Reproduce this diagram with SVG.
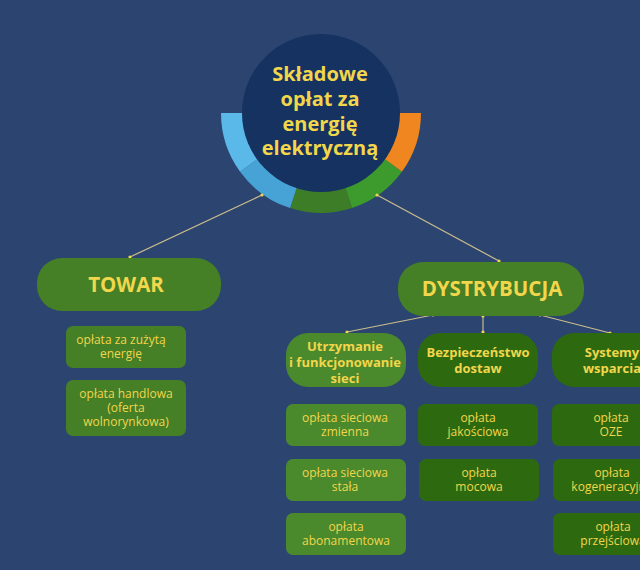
<svg xmlns="http://www.w3.org/2000/svg" width="640" height="570" viewBox="0 0 640 570">
<style>
.t{font-family:"Open Sans","Liberation Sans",sans-serif;fill:#f2d64b;text-anchor:middle}
.b{font-weight:bold}
.big{font-size:20.5px;font-weight:bold;font-family:"Open Sans","Liberation Sans",sans-serif;fill:#f2d64b;text-anchor:middle}
.hd{font-size:13px}
.lf{font-size:12px}
.mid{fill:#457f26}
.lt{fill:#4a892c}
.dk{fill:#2d6a0f}
.con{stroke:#cbbd8c;stroke-width:1.2;fill:none}
.dot{fill:#f2d64b}
</style>
<rect width="640" height="570" fill="#2c4470"/>

<g id="center">
<path d="M421,113 A100,100 0 0 1 401.9,171.8 L384.1,158.8 A78,78 0 0 0 399,113 Z" fill="#ef861f"/>
<path d="M401.9,171.8 A100,100 0 0 1 351.9,208.1 L345.1,187.2 A78,78 0 0 0 384.1,158.8 Z" fill="#3d9a2d"/>
<path d="M351.9,208.1 A100,100 0 0 1 290.1,208.1 L296.9,187.2 A78,78 0 0 0 345.1,187.2 Z" fill="#3e7d28"/>
<path d="M290.1,208.1 A100,100 0 0 1 240.1,171.8 L257.9,158.8 A78,78 0 0 0 296.9,187.2 Z" fill="#47a3d6"/>
<path d="M240.1,171.8 A100,100 0 0 1 221,113 L243,113 A78,78 0 0 0 257.9,158.8 Z" fill="#5bb9ea"/>
<circle cx="321" cy="113" r="79" fill="#153260"/>
<text class="t b" font-size="20"><tspan x="320" y="81">Składowe</tspan><tspan x="320" y="106">opłat za</tspan><tspan x="320" y="131">energię</tspan><tspan x="320" y="155">elektryczną</tspan></text>
</g>

<g id="connectors">
<line class="con" x1="262" y1="195" x2="130" y2="257"/>
<line class="con" x1="377" y1="195" x2="499" y2="261"/>
<line class="con" x1="433" y1="315" x2="347" y2="332"/>
<line class="con" x1="483" y1="316" x2="483" y2="332"/>
<line class="con" x1="540" y1="315" x2="610" y2="333"/>
<circle class="dot" cx="262" cy="195" r="1.6"/>
<circle class="dot" cx="130" cy="257" r="1.6"/>
<circle class="dot" cx="377" cy="195" r="1.6"/>
<circle class="dot" cx="499" cy="261" r="1.6"/>
<circle class="dot" cx="433" cy="315" r="1.6"/>
<circle class="dot" cx="347" cy="332" r="1.6"/>
<circle class="dot" cx="483" cy="316" r="1.6"/>
<circle class="dot" cx="483" cy="332" r="1.6"/>
<circle class="dot" cx="540" cy="315" r="1.6"/>
<circle class="dot" cx="610" cy="333" r="1.6"/>
</g>

<g id="towar">
<rect class="mid" x="37" y="258" width="184" height="53" rx="25"/>
<text class="big" x="126" y="292">TOWAR</text>
</g>
<g id="towar-1">
<rect class="mid" x="66" y="326" width="120" height="42" rx="7"/>
<text class="t lf"><tspan x="121" y="344">opłata za zużytą</tspan><tspan x="121" y="358">energię</tspan></text>
</g>
<g id="towar-2">
<rect class="mid" x="66" y="380" width="120" height="56" rx="7"/>
<text class="t lf"><tspan x="126" y="398">opłata handlowa</tspan><tspan x="126" y="412">(oferta</tspan><tspan x="126" y="426">wolnorynkowa)</tspan></text>
</g>

<g id="dystrybucja">
<rect class="mid" x="398" y="262" width="186" height="54" rx="25"/>
<text class="big" x="492" y="296">DYSTRYBUCJA</text>
</g>

<g id="utrzymanie">
<rect class="lt" x="286" y="333" width="120" height="54" rx="22"/>
<text class="t b hd"><tspan x="345" y="351">Utrzymanie</tspan><tspan x="345" y="367">i funkcjonowanie</tspan><tspan x="345" y="383">sieci</tspan></text>
</g>
<g id="bezpieczenstwo">
<rect class="dk" x="418" y="333" width="120" height="54" rx="22"/>
<text class="t b hd"><tspan x="478" y="357">Bezpieczeństwo</tspan><tspan x="478" y="373">dostaw</tspan></text>
</g>
<g id="systemy">
<rect class="dk" x="552" y="333" width="120" height="54" rx="22"/>
<text class="t b hd"><tspan x="612" y="357">Systemy</tspan><tspan x="612" y="373">wsparcia</tspan></text>
</g>

<g id="u1"><rect class="lt" x="286" y="404" width="120" height="42" rx="7"/>
<text class="t lf"><tspan x="345" y="422">opłata sieciowa</tspan><tspan x="345" y="436">zmienna</tspan></text></g>
<g id="u2"><rect class="lt" x="286" y="459" width="120" height="42" rx="7"/>
<text class="t lf"><tspan x="345" y="477">opłata sieciowa</tspan><tspan x="345" y="491">stała</tspan></text></g>
<g id="u3"><rect class="lt" x="286" y="513" width="120" height="42" rx="7"/>
<text class="t lf"><tspan x="346" y="531">opłata</tspan><tspan x="346" y="545">abonamentowa</tspan></text></g>

<g id="b1"><rect class="dk" x="418" y="404" width="120" height="42" rx="7"/>
<text class="t lf"><tspan x="478" y="422">opłata</tspan><tspan x="478" y="436">jakościowa</tspan></text></g>
<g id="b2"><rect class="dk" x="419" y="459" width="120" height="42" rx="7"/>
<text class="t lf"><tspan x="479" y="477">opłata</tspan><tspan x="479" y="491">mocowa</tspan></text></g>

<g id="s1"><rect class="dk" x="552" y="404" width="120" height="42" rx="7"/>
<text class="t lf"><tspan x="611" y="422">opłata</tspan><tspan x="611" y="436">OZE</tspan></text></g>
<g id="s2"><rect class="dk" x="553" y="459" width="120" height="42" rx="7"/>
<text class="t lf"><tspan x="612" y="477">opłata</tspan><tspan x="612" y="491">kogeneracyjna</tspan></text></g>
<g id="s3"><rect class="dk" x="553" y="513" width="120" height="42" rx="7"/>
<text class="t lf"><tspan x="613" y="531">opłata</tspan><tspan x="613" y="545">przejściowa</tspan></text></g>
</svg>
